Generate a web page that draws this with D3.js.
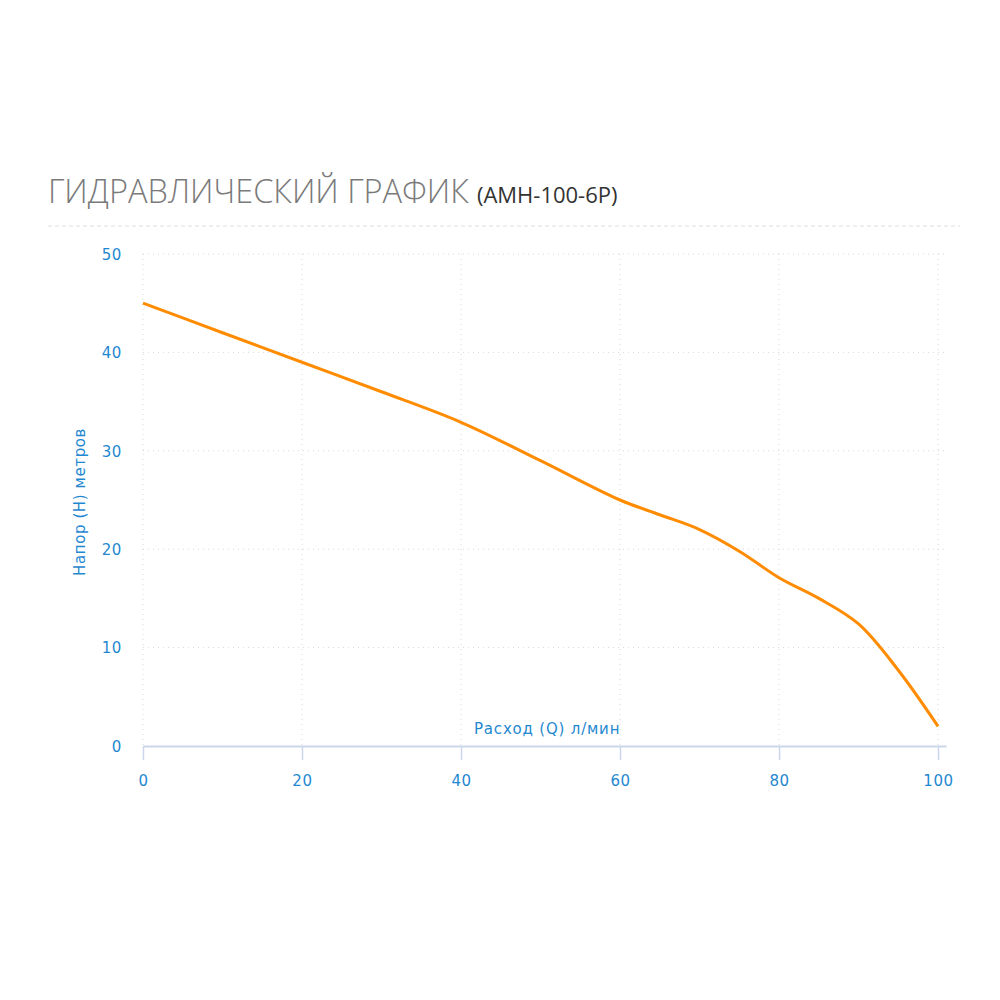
<!DOCTYPE html>
<html><head><meta charset="utf-8">
<script src="https://cdn.jsdelivr.net/npm/d3@7"></script>
<style>
body{margin:0;background:#fff;}
svg{display:block;}
</style></head>
<body><svg id="c" width="1000" height="1000"></svg>
<script>
const flowQ = [0, 10, 20, 30, 40, 50, 60, 65, 70, 75, 80, 85, 90, 95, 100];
const headH = [45, 42.0, 39.0, 36.0, 32.9, 29.0, 25.0, 23.5, 22.0, 19.8, 17.1, 15.0, 12.4, 7.7, 2.0];
const xTicks = [0, 20, 40, 60, 80, 100];
const yTicks = [0, 10, 20, 30, 40, 50];
const titleMain = "ГИДРАВЛИЧЕСКИЙ ГРАФИК";
const titleSub = "(АМН-100-6Р)";
const xLabel = "Расход (Q) л/мин";
const yLabel = "Напор (Н) метров";

const svg = d3.select("#c");
const blue = "#1f88d1";
const font = "'Open Sans', 'DejaVu Sans', sans-serif";
const lblFont = "'DejaVu Sans', Verdana, sans-serif";

const x = d3.scaleLinear().domain([0, 101]).range([143, 946]);
const y = d3.scaleLinear().domain([0, 50]).range([746, 254]);

// title
const t = svg.append("text").attr("x", 48).attr("y", 203).attr("font-family", font);
t.append("tspan").attr("font-size", 32.5).attr("font-weight", 300).attr("fill", "#7a7a7a").text(titleMain);
t.append("tspan").attr("font-size", 22).attr("fill", "#333").attr("dx", 8).text(titleSub);
svg.append("line").attr("x1", 48).attr("x2", 960).attr("y1", 226).attr("y2", 226)
  .attr("stroke", "#dcdcdc").attr("stroke-dasharray", "4,3");

// grid
svg.append("g").selectAll("line").data(yTicks.filter(d => d > 0)).join("line")
  .attr("x1", x(0)).attr("x2", 946).attr("y1", d => y(d)).attr("y2", d => y(d))
  .attr("stroke", "#d8d8d8").attr("stroke-dasharray", "1,4");
svg.append("g").selectAll("line").data(xTicks).join("line")
  .attr("x1", d => x(d)).attr("x2", d => x(d)).attr("y1", y(50)).attr("y2", y(0))
  .attr("stroke", "#d8d8d8").attr("stroke-dasharray", "1,4");

// x axis
const xa = svg.append("g").attr("transform", `translate(0,${y(0)})`)
  .call(d3.axisBottom(x).tickValues(xTicks).tickSize(14).tickPadding(15).tickSizeOuter(0));
xa.select(".domain").attr("stroke", "#ccd6eb").attr("stroke-width", 2);
xa.selectAll(".tick line").attr("stroke", "#ccd6eb").attr("stroke-width", 1.5);
xa.selectAll(".tick text").attr("fill", blue).attr("font-size", 15).attr("letter-spacing", 0.6).attr("font-family", lblFont);

// y axis labels
const ya = svg.append("g").attr("transform", `translate(122,0)`)
  .call(d3.axisLeft(y).tickValues(yTicks).tickSize(0).tickPadding(0));
ya.select(".domain").remove();
ya.selectAll(".tick text").attr("fill", blue).attr("font-size", 15).attr("letter-spacing", 0.6).attr("font-family", lblFont).attr("dy", "0.35em");

// axis titles
svg.append("text").attr("x", 474).attr("y", 734).attr("fill", blue)
  .attr("font-size", 15).attr("letter-spacing", 0.8).attr("font-family", lblFont).text(xLabel);
svg.append("text").attr("transform", `translate(85,502) rotate(-90)`).attr("text-anchor", "middle")
  .attr("fill", blue).attr("font-size", 15).attr("letter-spacing", 0.6).attr("font-family", lblFont).text(yLabel);

// curve
const data = flowQ.map((q, i) => [q, headH[i]]);
svg.append("path").datum(data)
  .attr("d", d3.line().x(d => x(d[0])).y(d => y(d[1])).curve(d3.curveCatmullRom.alpha(0.5)))
  .attr("fill", "none").attr("stroke", "#ff8c00").attr("stroke-width", 3);
</script></body></html>
